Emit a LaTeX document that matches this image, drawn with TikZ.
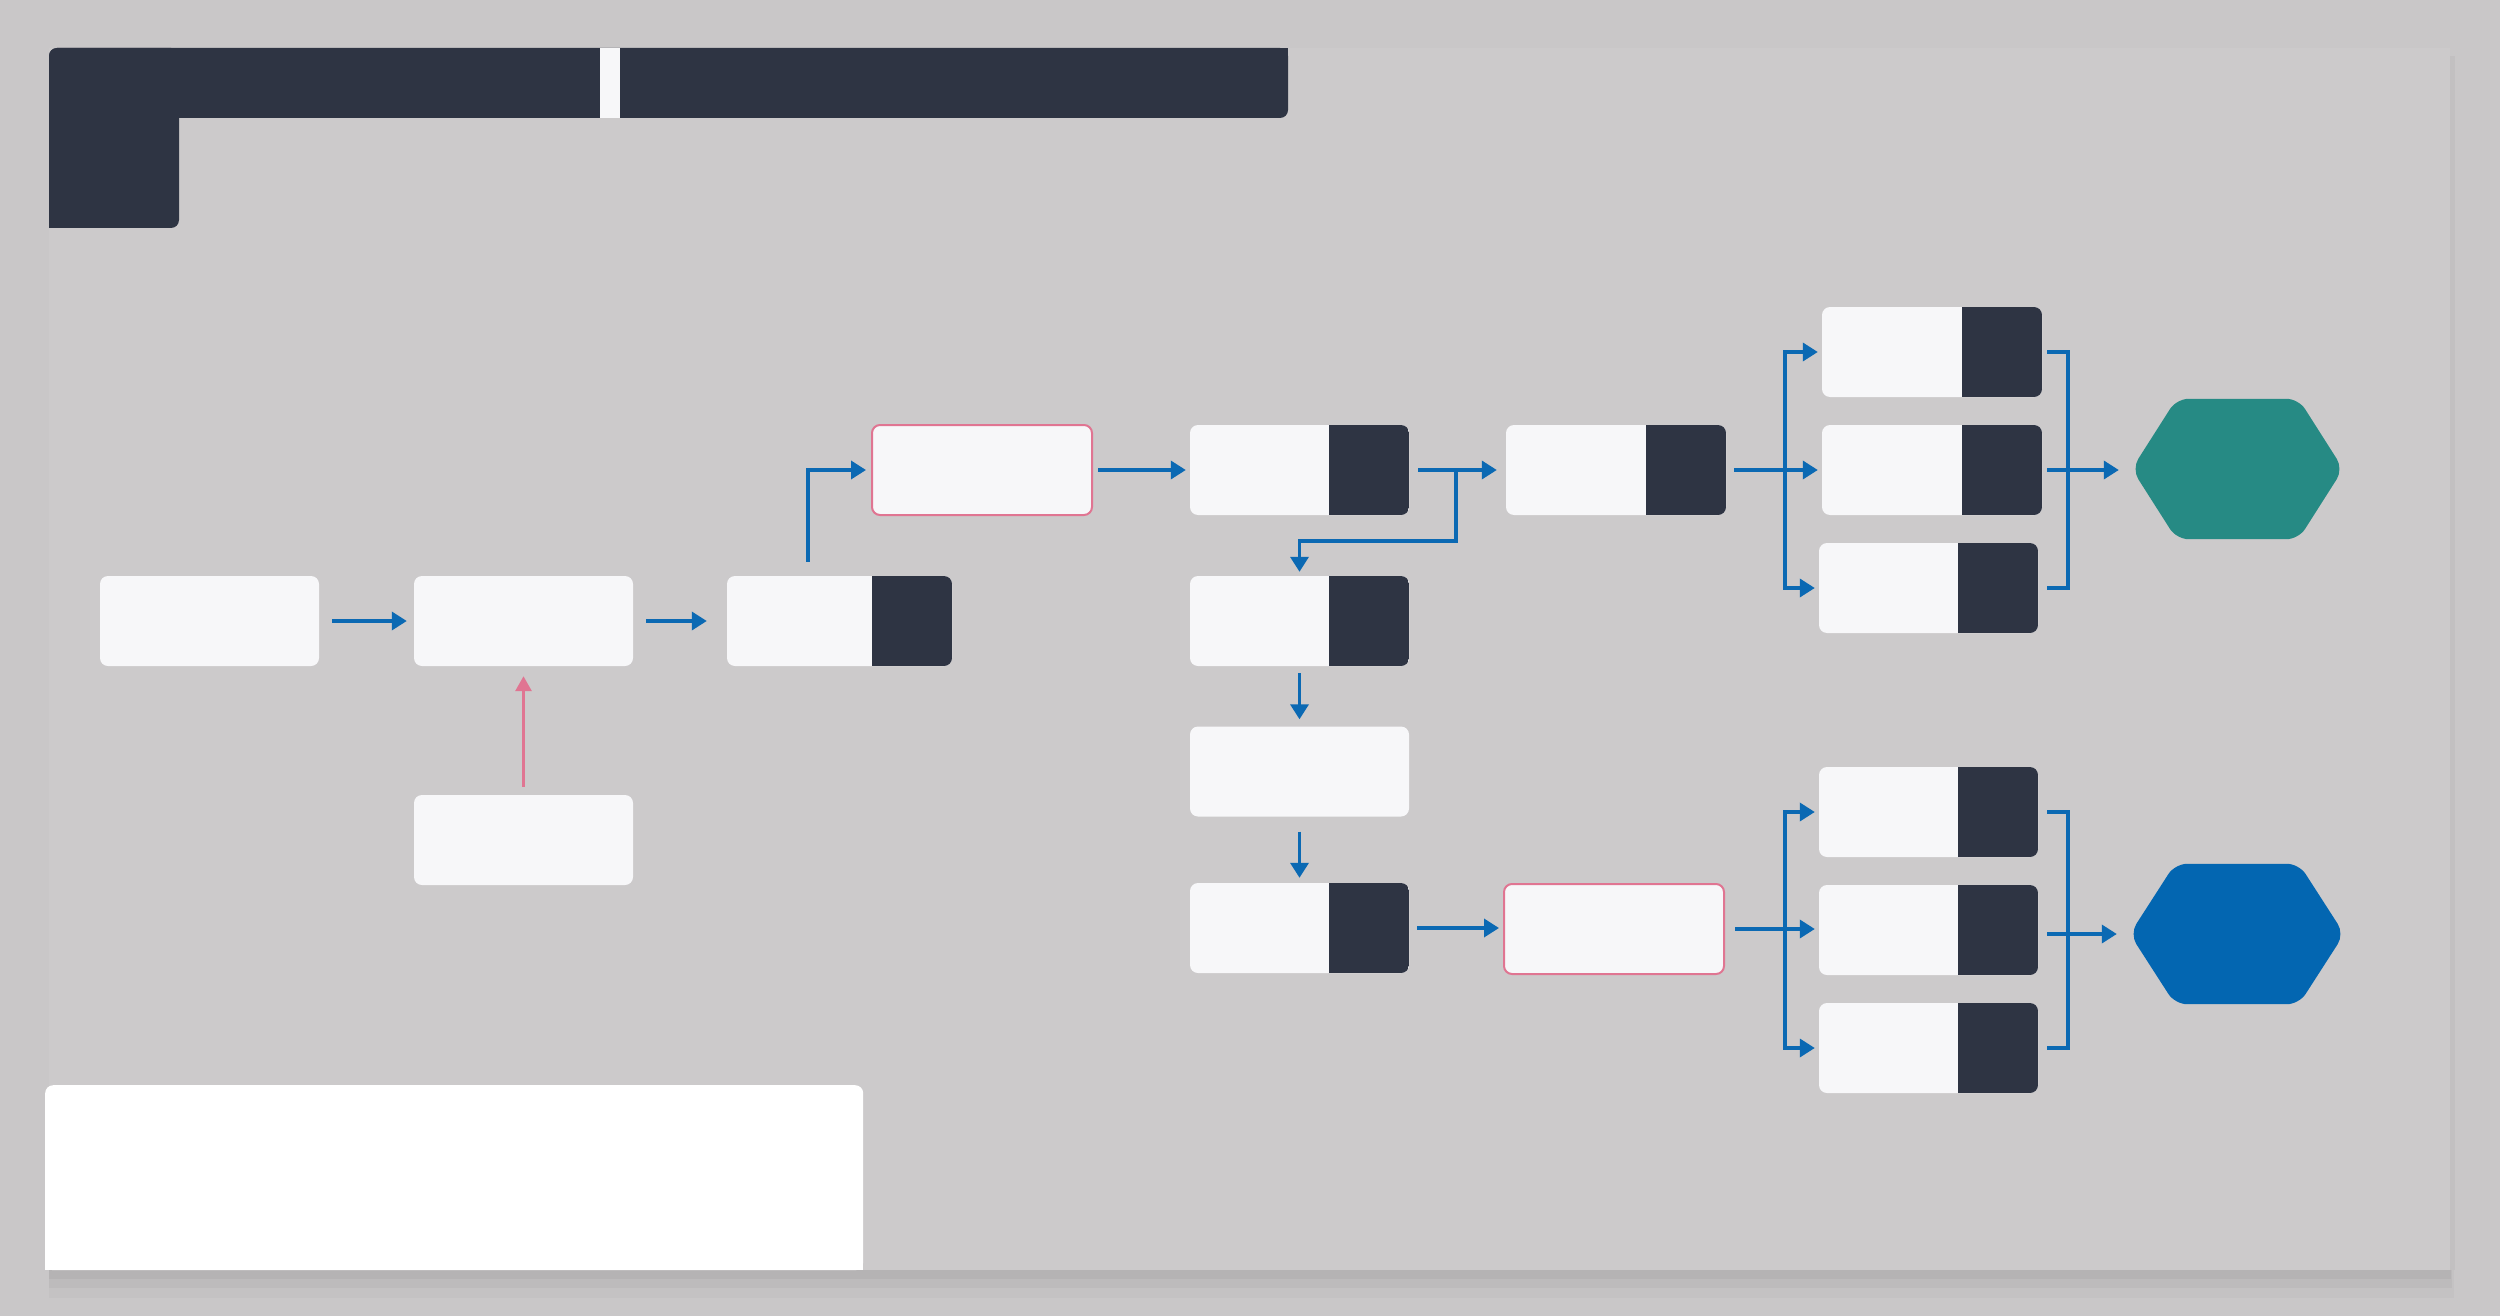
\documentclass[tikz,border=0pt]{standalone}
\usetikzlibrary{arrows.meta,calc}
\definecolor{bgout}{HTML}{C9C7C8}
\definecolor{panelc}{HTML}{CCCACB}
\definecolor{darkc}{HTML}{2E3443}
\definecolor{cardc}{HTML}{F7F7F9}
\definecolor{flowc}{HTML}{0B69B3}
\definecolor{pinkc}{HTML}{E07592}
\definecolor{tealc}{HTML}{268A84}
\definecolor{bluec}{HTML}{0366B1}
\tikzset{
  card/.style={fill=cardc, draw=none, rounded corners=8pt, minimum width=219pt, minimum height=90pt, inner sep=0pt},
  splitcard/.style={card, path picture={\fill[darkc, sharp corners] ([xshift=-80pt]path picture bounding box.north east) rectangle (path picture bounding box.south east);}},
  pinkcard/.style={card, draw=pinkc, line width=2pt},
  hexnode/.style={minimum width=211pt, minimum height=140pt, inner sep=0pt, draw=none},
  arr/.style={draw=flowc, line width=3.5pt, -{Triangle[length=15pt,width=18pt]}},
  link/.style={draw=flowc, line width=3.5pt},
  parr/.style={draw=pinkc, line width=3pt, -{Triangle[length=15pt,width=16pt]}},
}
\begin{document}
\begin{tikzpicture}[x=1pt,y=-1pt]
\useasboundingbox (0,0) rectangle (2500,1316);
\fill[bgout] (0,0) rectangle (2500,1316);
% panel shadow
\fill[black,opacity=0.025] (49,1270) rectangle (2454,1298);
\fill[black,opacity=0.03] (49,1270) rectangle (2452,1288);
\fill[black,opacity=0.04] (49,1270) rectangle (2451,1279);
\fill[black,opacity=0.03] (2450,56) rectangle (2455,1270);
% panel
\fill[panelc] (49,48) rectangle (2450,1270);
% header
\fill[darkc, rounded corners=8pt] (49,48) rectangle (1288,118);
\fill[darkc] (1270,48) rectangle (1288,70);
\fill[darkc, rounded corners=8pt] (49,48) rectangle (179,228);
\fill[darkc] (49,205) rectangle (75,228);
\fill[cardc] (600,48) rectangle (620,118);

% nodes
\node[card] (A) at (209.5,621) {};
\node[card] (B) at (523.5,621) {};
\node[splitcard, minimum width=225pt] (C) at (839.5,621) {};
\node[card] (D) at (523.5,840) {};
\node[pinkcard, minimum width=220pt] (E) at (982,470) {};
\node[splitcard] (F) at (1299.5,470) {};
\node[splitcard] (G) at (1299.5,621) {};
\node[card] (M) at (1299.5,771.5) {};
\node[splitcard] (J) at (1299.5,928) {};
\node[pinkcard, minimum width=220pt] (K) at (1614,929) {};
\node[splitcard, minimum width=220pt] (H) at (1616,470) {};
\node[splitcard, minimum width=220pt] (I1) at (1932,352) {};
\node[splitcard, minimum width=220pt] (I2) at (1932,470) {};
\node[splitcard] (I3) at (1928.5,588) {};
\node[splitcard] (L1) at (1928.5,812) {};
\node[splitcard] (L2) at (1928.5,930) {};
\node[splitcard] (L3) at (1928.5,1048) {};
\node[hexnode] (T) at (2237.5,469) {};
\node[hexnode, minimum width=214pt] (U) at (2237,934) {};
\fill[tealc, rounded corners=12pt] (T.west) -- ([xshift=-61pt]T.north) -- ([xshift=61pt]T.north) -- (T.east) -- ([xshift=61pt]T.south) -- ([xshift=-61pt]T.south) -- cycle;
\fill[bluec, rounded corners=12pt] (U.west) -- ([xshift=-62pt]U.north) -- ([xshift=62pt]U.north) -- (U.east) -- ([xshift=62pt]U.south) -- ([xshift=-62pt]U.south) -- cycle;

% legend
\node[fill=white, rounded corners=8pt, minimum width=818pt, minimum height=185pt, inner sep=0pt, anchor=north west] (legend) at (45,1085) {};
\fill[white] (45,1150) rectangle (863,1270);

% connectors
\draw[arr] ([xshift=13pt]A.east) -- ([xshift=-7pt]B.west);
\draw[arr] ([xshift=13pt]B.east) -- ([xshift=-20pt]C.west);
\draw[parr] ([yshift=8pt]D.north) -- ([yshift=-10pt]B.south);
\draw[arr] ([xshift=-31.5pt,yshift=14pt]C.north) |- ([xshift=-5pt]E.west);
\draw[arr] ([xshift=5pt]E.east) -- ([xshift=-4pt]F.west);
\coordinate (fb) at (1456,470);
\coordinate (fg) at (1456,541);
\draw[arr] ([xshift=9pt]F.east) -- ([xshift=-9pt]H.west);
\draw[arr] (fb) -- (fg) -| ([yshift=4pt]G.north);
\draw[arr] ([yshift=-7pt]G.south) -- ([yshift=7pt]M.north);
\draw[arr] ([yshift=-15pt]M.south) -- ([yshift=5pt]J.north);
\coordinate (js) at ([xshift=8pt]J.east);
\draw[arr] (js) -- ([xshift=-4pt]K.west |- js);

\coordinate (hs) at ([xshift=8pt]H.east);
\coordinate (hb) at (1785,470);
\draw[arr] (hs) -- (hb) |- ([xshift=-4pt]I1.west);
\draw[arr] (hs) -- ([xshift=-4pt]I2.west);
\draw[arr] (hb) |- ([xshift=-4pt]I3.west);
\coordinate (tb) at (2068,470);
\draw[link] ([xshift=5pt]I1.east) -| (tb);
\draw[link] ([xshift=9pt]I3.east) -| (tb);
\draw[arr] ([xshift=5pt]I2.east) -- ([xshift=-13pt]T.west |- I2.east);

\coordinate (ks) at ([xshift=10pt]K.east);
\coordinate (kb) at (1785,929);
\draw[arr] (ks) -- (kb) |- ([xshift=-4pt]L1.west);
\draw[arr] (ks) -- ([xshift=-4pt]L2.west |- ks);
\draw[arr] (kb) |- ([xshift=-4pt]L3.west);
\coordinate (ub) at (2068,932);
\draw[link] ([xshift=9pt]L1.east) -| (ub);
\draw[link] ([xshift=9pt]L3.east) -| (ub);
\draw[arr] ([xshift=9pt]L2.east |- U.west) -- ([xshift=-13pt]U.west);
\end{tikzpicture}
\end{document}
